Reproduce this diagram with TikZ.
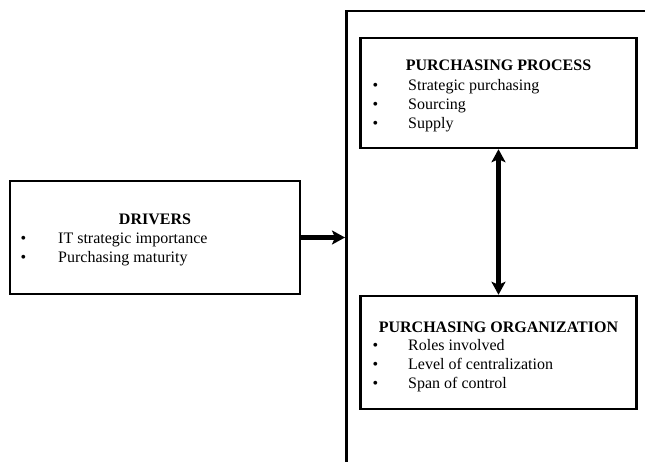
\documentclass[tikz,border=0pt]{standalone}
\usepackage{fontspec}
\setmainfont{Liberation Serif}
\usetikzlibrary{arrows.meta,positioning}
\newcommand\itm[2][35.5pt]{\makebox[#1][l]{\textbullet}#2}

\begin{document}
\begin{tikzpicture}[
    x=1pt, y=-1pt,
    >={Stealth[length=13pt,width=14pt,inset=3pt]},
    every node/.style={font=\fontsize{16}{19}\selectfont},
    box/.style={rectangle,draw,line width=2.5pt,inner sep=0pt},
    title/.style={font=\fontsize{16}{19}\selectfont\bfseries,anchor=base,inner sep=0pt},
    items/.style={anchor=base west,inner sep=0pt},
    link/.style={line width=4.5pt}
  ]
  \useasboundingbox (0,0) rectangle (645,462);
  \clip (0,0) rectangle (645,462);

  % frame runs off the page on the right and at the bottom
  \node[box,anchor=north west,minimum width=400pt,minimum height=500pt] (frame) at (345,10) {};
  \node[box,minimum width=290pt,minimum height=113pt] (drivers) at (155,237.5) {};
  \node[box,minimum width=276pt,minimum height=110pt] (process) at (498.5,93) {};
  \node[box,minimum width=276pt,minimum height=113pt] (org) at (498.5,352.5) {};

  % box texts
  \node[title] (driversT) at (155,225) {DRIVERS};
  \node[items] (driversL) at (20.5,244) {\begin{tabular}[t]{@{}l@{}}
    \itm[37.5pt]{IT strategic importance}\\
    \itm[37.5pt]{Purchasing maturity}\end{tabular}};
  \node[title] (processT) at (498.5,71) {PURCHASING PROCESS};
  \node[items] (processL) at (372.5,91) {\begin{tabular}[t]{@{}l@{}}
    \itm{Strategic purchasing}\\\itm{Sourcing}\\\itm{Supply}\end{tabular}};
  \node[title] (orgT) at (498.5,332) {PURCHASING ORGANIZATION};
  \node[items] (orgL) at (372.5,350) {\begin{tabular}[t]{@{}l@{}}
    \itm{Roles involved}\\\itm{Level of centralization}\\
    \itm{Span of control}\end{tabular}};

  \draw[link,->] (drivers) -- (drivers -| frame.west);
  \draw[link,<->] (process) -- (org);
\end{tikzpicture}
\end{document}
